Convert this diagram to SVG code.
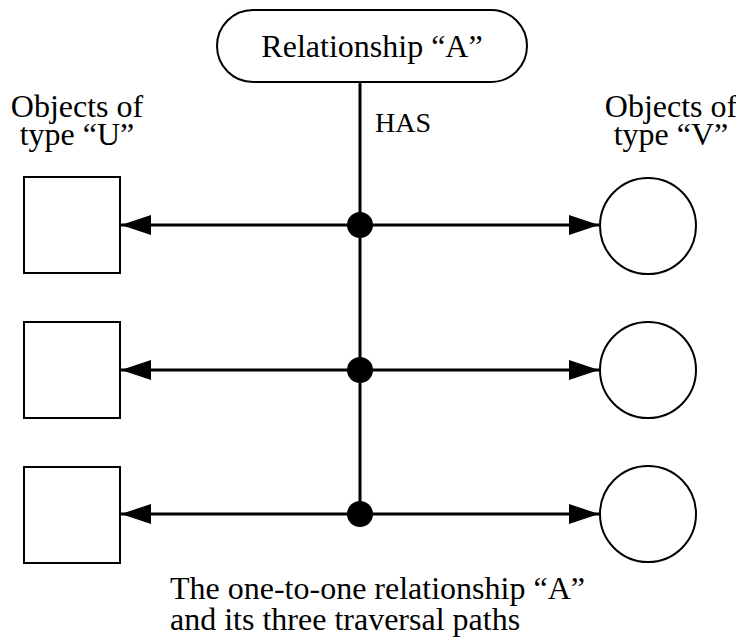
<svg xmlns="http://www.w3.org/2000/svg" width="736" height="639" viewBox="0 0 736 639">
<style>
text{font-family:"Liberation Serif","Times New Roman",serif;font-size:32px;fill:#000}
.shape{fill:#fff;stroke:#000;stroke-width:2}
.conn{stroke:#000;stroke-width:3;fill:none}
.dot{fill:#000}
</style>
<defs>
<marker id="arr" markerWidth="30" markerHeight="20" refX="30" refY="10" orient="auto" markerUnits="userSpaceOnUse">
<path d="M0,0 L30,10 L0,20 Z" fill="#000"/>
</marker>
</defs>
<rect width="736" height="639" fill="#fff"/>
<g id="relationship">
<rect class="shape" x="217" y="10" width="310" height="72" rx="36" ry="36"/>
<text x="372" y="57" text-anchor="middle">Relationship “A”</text>
</g>
<g id="label-u">
<text x="77" y="117" text-anchor="middle">Objects of</text>
<text x="77" y="145" text-anchor="middle">type “U”</text>
</g>
<g id="label-v">
<text x="671" y="117" text-anchor="middle">Objects of</text>
<text x="671" y="145" text-anchor="middle">type “V”</text>
</g>
<g id="u1"><rect class="shape" x="24" y="177" width="96" height="96"/></g>
<g id="u2"><rect class="shape" x="24" y="322" width="96" height="96"/></g>
<g id="u3"><rect class="shape" x="24" y="467" width="96" height="96"/></g>
<g id="v1"><circle class="shape" cx="648" cy="226" r="48"/></g>
<g id="v2"><circle class="shape" cx="648" cy="370" r="48"/></g>
<g id="v3"><circle class="shape" cx="648" cy="514" r="48"/></g>
<g id="connectors">
<line class="conn" x1="360" y1="82" x2="360" y2="514"/>
<line class="conn" x1="360" y1="225" x2="121" y2="225" marker-end="url(#arr)"/>
<line class="conn" x1="360" y1="225" x2="599" y2="225" marker-end="url(#arr)"/>
<line class="conn" x1="360" y1="370" x2="121" y2="370" marker-end="url(#arr)"/>
<line class="conn" x1="360" y1="370" x2="599" y2="370" marker-end="url(#arr)"/>
<line class="conn" x1="360" y1="514" x2="121" y2="514" marker-end="url(#arr)"/>
<line class="conn" x1="360" y1="514" x2="599" y2="514" marker-end="url(#arr)"/>
<circle class="dot" cx="360" cy="225" r="13"/>
<circle class="dot" cx="360" cy="370" r="13"/>
<circle class="dot" cx="360" cy="514" r="13"/>
<text x="375" y="132" style="font-size:28px">HAS</text>
</g>
<g id="caption">
<text x="170" y="599">The one-to-one relationship “A”</text>
<text x="170" y="630">and its three traversal paths</text>
</g>
</svg>
